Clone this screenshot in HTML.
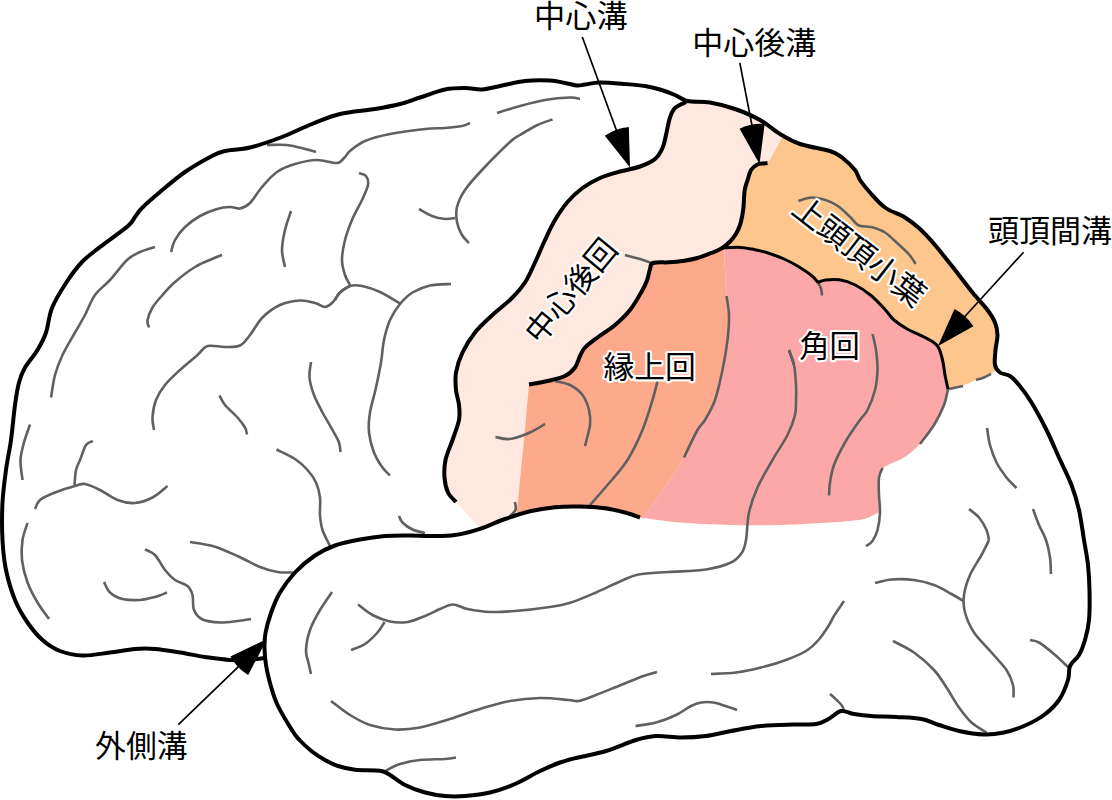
<!DOCTYPE html>
<html><head><meta charset="utf-8"><title>Parietal lobe</title>
<style>
html,body{margin:0;padding:0;background:#fff;}
body{width:1112px;height:800px;overflow:hidden;font-family:"Liberation Sans",sans-serif;}
svg{display:block;}
.g{fill:none;stroke:#606060;stroke-width:2.6;stroke-linecap:butt;stroke-linejoin:round;}
.k{fill:none;stroke:#000;stroke-width:4.0;stroke-linecap:butt;stroke-linejoin:round;}
.k2{fill:none;stroke:#000;stroke-width:3.0;stroke-linecap:butt;stroke-linejoin:round;}
.a{fill:none;stroke:#000;stroke-width:1.7;}
.t{fill:#000;font-family:"Liberation Sans","Noto Sans CJK JP",sans-serif;}
.th{fill:#000;stroke:#fff;stroke-width:4.2;stroke-linejoin:round;paint-order:stroke fill;font-family:"Liberation Sans","Noto Sans CJK JP",sans-serif;}
</style></head><body>
<svg width="1112" height="800" viewBox="0 0 1112 800">
<rect width="1112" height="800" fill="#fff"/>
<path d="M686.0,102.0 C684.2,103.0 677.7,105.4 675.0,108.0 C672.3,110.6 671.5,113.0 670.0,117.5 C668.5,122.0 667.2,129.9 666.0,135.0 C664.8,140.1 664.3,144.0 662.5,148.0 C660.7,152.0 658.8,155.9 655.0,159.0 C651.2,162.1 645.8,164.4 640.0,166.5 C634.2,168.6 626.7,169.6 620.0,171.5 C613.3,173.4 606.2,175.2 600.0,178.0 C593.8,180.8 587.9,184.0 582.5,188.0 C577.1,192.0 572.1,196.7 567.5,202.0 C562.9,207.3 558.8,213.7 555.0,220.0 C551.2,226.3 548.3,232.9 545.0,240.0 C541.7,247.1 538.3,255.4 535.0,262.5 C531.7,269.6 528.8,276.7 525.0,282.5 C521.2,288.3 517.9,292.1 512.5,297.5 C507.1,302.9 498.8,309.2 492.5,315.0 C486.2,320.8 480.0,326.2 475.0,332.5 C470.0,338.8 465.7,345.8 462.5,352.5 C459.3,359.2 457.1,366.2 456.0,372.5 C454.9,378.8 455.5,384.6 456.0,390.0 C456.5,395.4 458.5,400.0 459.0,405.0 C459.5,410.0 460.1,414.2 459.0,420.0 C457.9,425.8 454.8,433.3 452.5,440.0 C450.2,446.7 446.8,453.8 445.5,460.0 C444.2,466.2 444.1,472.1 444.5,477.5 C444.9,482.9 446.1,488.4 448.0,492.5 C449.9,496.6 454.7,500.4 456.0,502.0 L480.0,528.8 C484.2,527.2 498.9,521.4 505.0,519.0 C511.1,516.6 514.6,515.2 516.5,514.5 L516.5,514.0 C516.9,510.0 518.0,499.8 519.0,490.0 C520.0,480.2 521.3,467.1 522.5,455.0 C523.7,442.9 524.9,429.2 526.0,417.5 C527.1,405.8 528.5,390.0 529.0,384.5 L529.0,384.5 C532.1,383.9 541.5,382.4 547.5,381.0 C553.5,379.6 560.4,378.2 565.0,376.0 C569.6,373.8 572.5,370.8 575.0,367.5 C577.5,364.2 578.3,359.3 580.0,356.0 C581.7,352.7 582.1,350.6 585.0,347.5 C587.9,344.4 592.5,341.2 597.5,337.5 C602.5,333.8 609.6,329.6 615.0,325.0 C620.4,320.4 625.6,315.5 630.0,310.0 C634.4,304.5 638.6,296.9 641.4,292.0 C644.2,287.1 645.6,284.3 647.0,280.5 C648.4,276.7 649.0,271.9 650.0,269.0 C651.0,266.1 649.9,264.1 653.0,263.0 C656.1,261.9 663.8,262.6 668.8,262.3 C673.8,262.0 678.2,261.7 683.0,261.0 C687.8,260.3 692.6,259.4 697.5,258.0 C702.4,256.6 708.5,254.1 712.5,252.5 C716.5,250.9 718.6,250.2 721.5,248.4 C724.4,246.7 727.2,244.4 729.6,242.0 C732.0,239.6 734.2,236.8 735.9,234.0 C737.6,231.2 739.0,228.0 740.0,225.0 C741.0,222.0 741.6,219.0 742.2,216.0 C742.8,213.0 743.2,210.0 743.5,207.0 C743.8,204.0 743.8,201.0 744.0,198.0 C744.2,195.0 744.3,192.0 744.9,189.0 C745.5,186.0 746.6,183.2 747.6,180.0 C748.6,176.8 749.4,172.6 751.0,170.0 C752.6,167.4 754.8,165.7 757.5,164.5 C760.2,163.3 765.8,163.2 767.5,163.0 L783.0,136.0 L783.0,136.0 C782.5,135.7 783.8,136.7 780.0,134.0 C776.2,131.3 767.5,124.2 760.0,120.0 C752.5,115.8 743.3,111.9 735.0,109.0 C726.7,106.1 718.2,103.7 710.0,102.5 C701.8,101.3 690.0,102.1 686.0,102.0 Z" fill="#fee8e0"/>
<path d="M721.5,248.4 C720.0,249.1 716.5,250.9 712.5,252.5 C708.5,254.1 702.4,256.6 697.5,258.0 C692.6,259.4 687.8,260.3 683.0,261.0 C678.2,261.7 673.8,262.0 668.8,262.3 C663.8,262.6 656.1,261.9 653.0,263.0 C649.9,264.1 651.0,266.1 650.0,269.0 C649.0,271.9 648.4,276.7 647.0,280.5 C645.6,284.3 644.2,287.1 641.4,292.0 C638.6,296.9 634.4,304.5 630.0,310.0 C625.6,315.5 620.4,320.4 615.0,325.0 C609.6,329.6 602.5,333.8 597.5,337.5 C592.5,341.2 587.9,344.4 585.0,347.5 C582.1,350.6 581.7,352.7 580.0,356.0 C578.3,359.3 577.5,364.2 575.0,367.5 C572.5,370.8 569.6,373.8 565.0,376.0 C560.4,378.2 553.5,379.6 547.5,381.0 C541.5,382.4 532.1,383.9 529.0,384.5 L529.0,384.5 C528.5,390.0 527.1,405.8 526.0,417.5 C524.9,429.2 523.7,442.9 522.5,455.0 C521.3,467.1 520.0,480.2 519.0,490.0 C518.0,499.8 516.9,510.0 516.5,514.0 L516.5,514.5 C518.8,514.0 523.6,512.5 530.0,511.3 C536.4,510.1 546.7,508.0 555.0,507.2 C563.3,506.4 571.7,506.3 580.0,506.5 C588.3,506.7 597.5,507.3 605.0,508.3 C612.5,509.3 618.7,510.8 625.0,512.5 C631.3,514.2 640.0,517.5 643.0,518.5 L643.0,518.0 C644.2,516.3 645.5,514.3 650.0,508.0 C654.5,501.7 664.3,488.4 670.0,480.0 C675.7,471.6 679.4,465.8 684.0,457.5 C688.6,449.2 694.0,436.2 697.5,430.0 C701.0,423.8 702.1,425.0 705.0,420.0 C707.9,415.0 712.1,408.3 715.0,400.0 C717.9,391.7 720.4,380.0 722.5,370.0 C724.6,360.0 726.4,349.2 727.5,340.0 C728.6,330.8 729.2,322.3 729.0,315.0 C728.8,307.7 727.2,303.5 726.5,296.0 C725.8,288.5 725.4,278.0 725.0,270.0 C724.6,262.0 724.4,251.7 724.3,248.0 Z" fill="#fca98c"/>
<path d="M723.0,247.8 C726.0,247.7 735.4,247.1 740.7,247.4 C746.0,247.7 750.2,248.7 755.0,249.7 C759.8,250.7 764.7,251.9 769.5,253.5 C774.3,255.1 779.3,256.9 784.0,259.0 C788.7,261.1 792.9,263.2 797.5,266.0 C802.1,268.8 808.1,272.8 811.5,275.5 C814.9,278.2 816.9,281.3 818.0,282.5 L818.0,282.5 C819.2,282.1 821.9,280.4 825.5,280.0 C829.1,279.6 834.5,279.0 839.5,279.8 C844.5,280.6 850.0,282.4 855.3,285.0 C860.5,287.6 866.0,291.4 871.0,295.5 C876.0,299.6 881.2,305.4 885.0,309.5 C888.8,313.6 890.2,316.7 894.0,320.0 C897.8,323.3 902.8,326.6 908.0,329.5 C913.2,332.4 920.1,334.8 925.0,337.5 C929.9,340.2 934.6,342.2 937.5,346.0 C940.4,349.8 941.2,355.2 942.5,360.0 C943.8,364.8 944.1,370.2 945.0,375.0 C945.9,379.8 947.5,386.7 948.0,389.0 L948.0,389.0 C947.3,391.7 946.3,399.0 944.0,405.0 C941.7,411.0 938.0,418.5 934.0,425.0 C930.0,431.5 925.0,438.6 920.0,444.0 C915.0,449.4 910.0,453.6 904.0,457.5 C898.0,461.4 888.2,463.8 884.0,467.5 C879.8,471.2 879.8,475.4 879.0,480.0 C878.2,484.6 878.8,489.7 879.0,495.0 C879.2,500.3 879.8,509.2 880.0,512.0 L880.0,512.0 C877.3,513.2 870.0,517.4 864.0,519.0 C858.0,520.6 849.7,520.9 844.0,521.5 C838.3,522.1 840.7,521.9 830.0,522.5 C819.3,523.1 796.7,524.6 780.0,525.0 C763.3,525.4 746.7,525.4 730.0,525.0 C713.3,524.6 694.5,523.7 680.0,522.5 C665.5,521.3 649.2,518.8 643.0,518.0 L643.0,518.0 C644.2,516.3 645.5,514.3 650.0,508.0 C654.5,501.7 664.3,488.4 670.0,480.0 C675.7,471.6 679.4,465.8 684.0,457.5 C688.6,449.2 694.0,436.2 697.5,430.0 C701.0,423.8 702.1,425.0 705.0,420.0 C707.9,415.0 712.1,408.3 715.0,400.0 C717.9,391.7 720.4,380.0 722.5,370.0 C724.6,360.0 726.4,349.2 727.5,340.0 C728.6,330.8 729.2,322.3 729.0,315.0 C728.8,307.7 727.2,303.5 726.5,296.0 C725.8,288.5 725.4,278.0 725.0,270.0 C724.6,262.0 724.4,251.7 724.3,248.0 Z" fill="#fca8a8"/>
<path d="M767.5,163.0 C765.8,163.2 760.2,163.3 757.5,164.5 C754.8,165.7 752.6,167.4 751.0,170.0 C749.4,172.6 748.6,176.8 747.6,180.0 C746.6,183.2 745.5,186.0 744.9,189.0 C744.3,192.0 744.2,195.0 744.0,198.0 C743.8,201.0 743.8,204.0 743.5,207.0 C743.2,210.0 742.8,213.0 742.2,216.0 C741.6,219.0 741.0,222.0 740.0,225.0 C739.0,228.0 737.6,231.2 735.9,234.0 C734.2,236.8 732.0,239.6 729.6,242.0 C727.2,244.4 722.9,247.3 721.5,248.4 L723.0,247.8 C726.0,247.7 735.4,247.1 740.7,247.4 C746.0,247.7 750.2,248.7 755.0,249.7 C759.8,250.7 764.7,251.9 769.5,253.5 C774.3,255.1 779.3,256.9 784.0,259.0 C788.7,261.1 792.9,263.2 797.5,266.0 C802.1,268.8 808.1,272.8 811.5,275.5 C814.9,278.2 816.9,281.3 818.0,282.5 L818.0,282.5 C819.2,282.1 821.9,280.4 825.5,280.0 C829.1,279.6 834.5,279.0 839.5,279.8 C844.5,280.6 850.0,282.4 855.3,285.0 C860.5,287.6 866.0,291.4 871.0,295.5 C876.0,299.6 881.2,305.4 885.0,309.5 C888.8,313.6 890.2,316.7 894.0,320.0 C897.8,323.3 902.8,326.6 908.0,329.5 C913.2,332.4 920.1,334.8 925.0,337.5 C929.9,340.2 934.6,342.2 937.5,346.0 C940.4,349.8 941.2,355.2 942.5,360.0 C943.8,364.8 944.1,370.2 945.0,375.0 C945.9,379.8 947.5,386.7 948.0,389.0 L949.0,389.0 C951.5,388.3 959.5,386.5 964.0,385.0 C968.5,383.5 972.7,381.2 976.0,380.0 C979.3,378.8 981.5,378.5 984.0,377.5 C986.5,376.5 988.9,375.4 991.0,374.0 C993.1,372.6 995.6,369.8 996.5,369.0 L996.5,369.0 C996.2,368.3 995.2,368.2 995.0,365.0 C994.8,361.8 995.1,355.0 995.5,350.0 C995.9,345.0 997.6,339.6 997.5,335.0 C997.4,330.4 996.7,326.7 995.0,322.5 C993.3,318.3 991.2,315.0 987.5,310.0 C983.8,305.0 977.9,299.2 972.5,292.5 C967.1,285.8 961.2,277.9 955.0,270.0 C948.8,262.1 940.8,251.8 935.0,245.0 C929.2,238.2 925.0,233.6 920.0,229.0 C915.0,224.4 910.8,221.1 905.0,217.5 C899.2,213.9 890.8,211.7 885.0,207.5 C879.2,203.3 874.2,197.1 870.0,192.5 C865.8,187.9 862.5,183.8 860.0,180.0 C857.5,176.2 858.0,173.8 855.0,170.0 C852.0,166.2 846.2,160.7 842.0,157.5 C837.8,154.3 837.0,153.2 830.0,151.0 C823.0,148.8 807.8,146.5 800.0,144.0 C792.2,141.5 785.8,137.3 783.0,136.0 L768.0,163.0 Z" fill="#fdc68c"/>
<g class="g">
<path d="M155.0,247.0 C152.5,247.8 144.7,249.8 140.0,252.0 C135.3,254.2 132.0,255.3 127.0,260.0 C122.0,264.7 115.3,274.2 110.0,280.0 C104.7,285.8 99.2,289.2 95.0,295.0 C90.8,300.8 88.3,308.8 85.0,315.0 C81.7,321.2 78.8,325.8 75.0,332.5 C71.2,339.2 65.8,347.9 62.5,355.0 C59.2,362.1 56.9,367.9 55.0,375.0 C53.1,382.1 51.7,393.8 51.0,397.5"/>
<path d="M171.0,252.0 C171.7,250.0 172.7,244.2 175.0,240.0 C177.3,235.8 180.8,231.0 185.0,227.0 C189.2,223.0 194.7,219.0 200.0,216.0 C205.3,213.0 212.0,210.5 217.0,209.0 C222.0,207.5 226.2,207.1 230.0,207.0 C233.8,206.9 236.7,209.2 240.0,208.5 C243.3,207.8 246.3,206.6 250.0,203.0 C253.7,199.4 257.5,192.2 262.0,187.0 C266.5,181.8 271.5,175.8 277.0,172.0 C282.5,168.2 288.3,166.0 295.0,164.0 C301.7,162.0 310.0,160.2 317.0,160.0 C324.0,159.8 332.3,163.5 337.0,163.0 C341.7,162.5 342.8,159.0 345.0,157.0 C347.2,155.0 346.7,153.7 350.0,151.0 C353.3,148.3 358.3,143.8 365.0,141.0 C371.7,138.2 380.0,136.0 390.0,134.0 C400.0,132.0 415.8,130.0 425.0,129.0 C434.2,128.0 438.8,128.5 445.0,128.0 C451.2,127.5 457.8,126.8 462.0,126.0 C466.2,125.2 468.7,123.5 470.0,123.0"/>
<path d="M222.0,255.0 C220.3,255.7 216.5,257.0 212.0,259.0 C207.5,261.0 201.2,263.2 195.0,267.0 C188.8,270.8 180.4,277.3 175.0,282.0 C169.6,286.7 166.2,290.8 162.5,295.0 C158.8,299.2 155.0,303.3 152.5,307.5 C150.0,311.7 148.1,316.7 147.5,320.0 C146.9,323.3 148.8,326.2 149.0,327.5"/>
<path d="M267.0,145.0 C270.3,145.0 280.7,144.3 287.0,145.0 C293.3,145.7 300.2,147.8 305.0,149.0 C309.8,150.2 314.2,151.5 316.0,152.0"/>
<path d="M291.0,211.0 C290.0,214.2 286.5,223.5 285.0,230.0 C283.5,236.5 282.0,243.8 282.0,250.0 C282.0,256.2 284.5,264.2 285.0,267.0"/>
<path d="M359.0,173.0 C360.2,173.5 364.5,174.0 366.0,176.0 C367.5,178.0 368.7,181.0 368.0,185.0 C367.3,189.0 364.7,194.2 362.0,200.0 C359.3,205.8 354.8,213.3 352.0,220.0 C349.2,226.7 346.7,233.3 345.0,240.0 C343.3,246.7 342.0,254.2 342.0,260.0 C342.0,265.8 343.7,270.8 345.0,275.0 C346.3,279.2 349.2,283.3 350.0,285.0"/>
<path d="M335.0,300.0 C335.8,298.8 337.5,294.8 340.0,292.5 C342.5,290.2 346.3,287.1 350.0,286.0 C353.7,284.9 357.0,285.0 362.0,286.0 C367.0,287.0 373.7,289.1 380.0,292.0 C386.3,294.9 396.7,301.6 400.0,303.5"/>
<path d="M451.0,284.0 C447.5,284.2 436.4,284.1 430.0,285.5 C423.6,286.9 417.5,289.4 412.5,292.5 C407.5,295.6 403.8,299.4 400.0,304.0 C396.2,308.6 392.7,314.0 390.0,320.0 C387.3,326.0 385.5,332.9 384.0,340.0 C382.5,347.1 382.3,354.6 381.0,362.5 C379.7,370.4 377.8,379.2 376.0,387.5 C374.2,395.8 371.2,405.0 370.0,412.5 C368.8,420.0 368.3,425.8 369.0,432.5 C369.7,439.2 371.8,446.7 374.0,452.5 C376.2,458.3 379.8,463.7 382.5,467.5 C385.2,471.3 388.8,474.2 390.0,475.5"/>
<path d="M419.0,209.0 C421.2,210.2 427.7,214.3 432.0,216.0 C436.3,217.7 441.2,218.7 445.0,219.0 C448.8,219.3 453.3,218.2 455.0,218.0"/>
<path d="M552.5,119.5 C550.0,120.4 542.9,122.4 537.5,125.0 C532.1,127.6 524.6,132.2 520.0,135.0 C515.4,137.8 516.3,136.2 510.0,142.0 C503.7,147.8 489.5,162.0 482.0,170.0 C474.5,178.0 469.2,183.8 465.0,190.0 C460.8,196.2 458.3,201.7 457.0,207.0 C455.7,212.3 456.2,217.3 457.0,222.0 C457.8,226.7 460.0,231.5 462.0,235.0 C464.0,238.5 467.8,241.7 469.0,243.0"/>
<path d="M497.0,113.0 C500.8,111.8 512.0,108.2 520.0,106.0 C528.0,103.8 536.7,101.4 545.0,100.0 C553.3,98.6 564.2,97.7 570.0,97.5 C575.8,97.3 578.3,98.8 580.0,99.0"/>
<path d="M350.0,286.0 C348.3,287.1 342.9,289.8 340.0,292.5 C337.1,295.2 335.0,300.1 332.5,302.5 C330.0,304.9 327.9,306.9 325.0,307.0 C322.1,307.1 319.2,304.1 315.0,303.0 C310.8,301.9 305.8,300.2 300.0,300.5 C294.2,300.8 286.2,302.2 280.0,305.0 C273.8,307.8 267.5,312.5 262.5,317.5 C257.5,322.5 253.8,330.3 250.0,335.0 C246.2,339.7 244.2,343.5 240.0,345.5 C235.8,347.5 230.4,346.9 225.0,347.0 C219.6,347.1 212.1,344.7 207.5,346.0 C202.9,347.3 202.1,351.0 197.5,355.0 C192.9,359.0 185.4,365.0 180.0,370.0 C174.6,375.0 169.0,380.0 165.0,385.0 C161.0,390.0 158.1,394.6 156.0,400.0 C153.9,405.4 152.8,412.5 152.5,417.5 C152.2,422.5 153.8,427.9 154.0,430.0"/>
<path d="M219.5,395.5 C220.4,397.1 222.0,401.3 225.0,405.0 C228.0,408.7 234.2,413.8 237.5,417.5 C240.8,421.2 243.4,424.7 245.0,427.5 C246.6,430.3 246.7,433.3 247.0,434.5"/>
<path d="M30.0,424.5 C29.0,427.5 25.6,436.6 24.0,442.5 C22.4,448.4 20.8,453.8 20.5,460.0 C20.2,466.2 22.2,476.7 22.5,480.0"/>
<path d="M93.0,441.0 C91.8,441.7 88.2,441.8 86.0,445.0 C83.8,448.2 81.7,455.8 80.0,460.0 C78.3,464.2 76.9,465.8 76.0,470.0 C75.1,474.2 74.8,482.5 74.5,485.0"/>
<path d="M311.0,362.0 C310.8,364.6 309.0,372.0 309.5,377.5 C310.0,383.0 311.8,389.2 314.0,395.0 C316.2,400.8 319.4,406.7 322.5,412.5 C325.6,418.3 329.8,425.0 332.5,430.0 C335.2,435.0 337.7,438.8 339.0,442.5 C340.3,446.2 340.2,450.4 340.5,452.0"/>
<path d="M276.5,449.5 C279.6,451.1 289.8,455.6 295.0,459.0 C300.2,462.4 304.0,466.1 307.5,470.0 C311.0,473.9 313.9,477.9 316.0,482.5 C318.1,487.1 319.3,492.1 320.0,497.5 C320.7,502.9 319.6,509.6 320.0,515.0 C320.4,520.4 320.8,524.8 322.5,530.0 C324.2,535.2 328.8,543.3 330.0,546.0"/>
<path d="M35.0,509.0 C35.8,507.5 36.7,502.8 40.0,500.0 C43.3,497.2 49.2,494.8 55.0,492.5 C60.8,490.2 70.0,487.4 75.0,486.0 C80.0,484.6 80.8,483.3 85.0,484.0 C89.2,484.7 94.6,487.3 100.0,490.0 C105.4,492.7 111.7,497.8 117.5,500.0 C123.3,502.2 129.2,503.4 135.0,503.0 C140.8,502.6 147.1,500.3 152.5,497.5 C157.9,494.7 165.0,487.9 167.5,486.0"/>
<path d="M27.5,523.0 C26.7,525.8 23.4,533.8 22.5,540.0 C21.6,546.2 21.2,552.9 22.0,560.0 C22.8,567.1 24.9,575.4 27.5,582.5 C30.1,589.6 33.9,596.4 37.5,602.5 C41.1,608.6 47.1,616.2 49.0,619.0"/>
<path d="M104.0,582.0 C105.0,583.8 106.9,589.7 110.0,592.5 C113.1,595.3 117.5,597.8 122.5,599.0 C127.5,600.2 134.6,600.3 140.0,600.0 C145.4,599.7 150.5,598.2 155.0,597.0 C159.5,595.8 165.0,593.2 167.0,592.5"/>
<path d="M145.0,549.5 C146.7,550.4 151.7,551.6 155.0,555.0 C158.3,558.4 161.7,565.8 165.0,570.0 C168.3,574.2 171.2,577.3 175.0,580.0 C178.8,582.7 184.6,583.5 187.5,586.0 C190.4,588.5 191.4,591.0 192.5,595.0 C193.6,599.0 192.3,605.9 194.0,610.0 C195.7,614.1 198.2,617.4 202.5,619.5 C206.8,621.6 214.2,622.2 220.0,622.5 C225.8,622.8 232.3,621.6 237.5,621.0 C242.7,620.4 248.8,619.3 251.0,619.0"/>
<path d="M190.0,542.0 C193.8,542.7 204.6,543.7 212.5,546.0 C220.4,548.3 229.6,552.5 237.5,556.0 C245.4,559.5 253.3,564.3 260.0,567.0 C266.7,569.7 272.0,571.1 277.5,572.0 C283.0,572.9 290.4,572.4 293.0,572.5"/>
<path d="M399.0,516.0 C399.6,517.1 400.2,520.2 402.5,522.5 C404.8,524.8 408.8,527.8 412.5,529.5 C416.2,531.2 422.9,532.4 425.0,533.0"/>
<path d="M332.0,592.0 C330.0,595.0 323.7,603.7 320.0,610.0 C316.3,616.3 312.3,623.3 310.0,630.0 C307.7,636.7 306.2,644.2 306.0,650.0 C305.8,655.8 308.2,661.0 309.0,665.0 C309.8,669.0 310.7,672.5 311.0,674.0"/>
<path d="M358.0,604.5 C360.4,606.2 367.2,612.2 372.5,615.0 C377.8,617.8 384.2,620.3 390.0,621.5 C395.8,622.7 401.7,622.9 407.5,622.0 C413.3,621.1 419.6,618.2 425.0,616.0 C430.4,613.8 435.3,610.9 440.0,609.0 C444.7,607.1 448.4,604.5 453.0,604.5 C457.6,604.5 461.3,607.8 467.5,609.0 C473.7,610.2 482.1,611.7 490.0,612.0 C497.9,612.3 505.0,611.8 515.0,611.0 C525.0,610.2 540.7,608.4 550.0,607.0 C559.3,605.6 563.3,604.9 571.0,602.5 C578.7,600.1 587.7,596.1 596.0,592.5 C604.3,588.9 613.9,584.0 621.0,581.0 C628.1,578.0 630.6,576.0 638.5,574.5 C646.4,573.0 657.2,572.8 668.5,572.0 C679.8,571.2 695.6,571.1 706.0,569.5 C716.4,567.9 725.0,565.3 731.0,562.5 C737.0,559.7 739.5,556.2 742.0,552.5 C744.5,548.8 744.8,546.7 746.0,540.0 C747.2,533.3 747.1,521.2 749.0,512.5 C750.9,503.8 753.6,496.2 757.5,487.5 C761.4,478.8 767.5,468.8 772.5,460.0 C777.5,451.2 783.8,442.5 787.5,435.0 C791.2,427.5 793.6,420.8 795.0,415.0 C796.4,409.2 795.8,405.0 796.0,400.0 C796.2,395.0 796.3,390.8 796.0,385.0 C795.7,379.2 795.2,370.8 794.0,365.0 C792.8,359.2 789.8,352.5 789.0,350.0"/>
<path d="M384.5,622.0 C383.3,623.8 380.8,628.8 377.5,632.5 C374.2,636.2 369.4,641.1 365.0,644.0 C360.6,646.9 353.3,649.0 351.0,650.0"/>
<path d="M331.0,701.0 C334.2,703.3 343.5,711.0 350.0,715.0 C356.5,719.0 362.5,722.6 370.0,725.0 C377.5,727.4 386.7,729.1 395.0,729.5 C403.3,729.9 410.8,729.2 420.0,727.5 C429.2,725.8 440.0,722.1 450.0,719.0 C460.0,715.9 470.0,712.0 480.0,709.0 C490.0,706.0 500.0,702.8 510.0,701.0 C520.0,699.2 530.2,698.2 540.0,698.0 C549.8,697.8 562.1,699.5 568.5,700.0 C574.9,700.5 574.3,701.7 578.5,701.0 C582.7,700.3 586.4,698.7 593.5,696.0 C600.6,693.3 612.7,688.3 621.0,685.0 C629.3,681.7 637.5,678.2 643.5,676.0 C649.5,673.8 654.8,672.7 657.0,672.0"/>
<path d="M386.0,770.5 C388.3,769.4 394.3,765.8 400.0,764.0 C405.7,762.2 412.5,760.8 420.0,760.0 C427.5,759.2 439.0,759.4 445.0,759.0 C451.0,758.6 454.2,757.8 456.0,757.5"/>
<path d="M711.0,674.0 C715.2,673.8 727.7,673.6 736.0,672.5 C744.3,671.4 752.7,669.6 761.0,667.5 C769.3,665.4 778.5,662.8 786.0,660.0 C793.5,657.2 800.6,654.3 806.0,651.0 C811.4,647.7 814.8,644.2 818.5,640.0 C822.2,635.8 825.9,630.0 828.5,626.0 C831.1,622.0 831.4,620.2 834.0,616.0 C836.6,611.8 842.3,603.5 844.0,601.0"/>
<path d="M635.5,726.0 C638.9,725.4 649.2,724.3 656.0,722.5 C662.8,720.7 670.2,717.8 676.0,715.0 C681.8,712.2 686.8,708.1 691.0,706.0 C695.2,703.9 697.2,703.1 701.0,702.5 C704.8,701.9 708.9,701.8 713.5,702.5 C718.1,703.2 724.6,705.8 728.5,707.0 C732.4,708.2 735.6,709.5 737.0,710.0"/>
<path d="M830.0,694.0 C830.7,694.6 832.1,695.7 834.0,697.5 C835.9,699.3 839.8,702.8 841.5,705.0 C843.2,707.2 843.6,710.0 844.0,711.0"/>
<path d="M989.0,540.0 C987.8,542.5 984.7,549.2 981.5,555.0 C978.3,560.8 972.9,568.3 970.0,575.0 C967.1,581.7 964.8,588.8 964.0,595.0 C963.2,601.2 963.3,606.2 965.0,612.5 C966.7,618.8 969.6,625.8 974.0,632.5 C978.4,639.2 986.1,646.2 991.5,652.5 C996.9,658.8 1002.9,664.6 1006.5,670.0 C1010.1,675.4 1011.8,680.4 1013.0,685.0 C1014.2,689.6 1013.4,695.4 1013.5,697.5"/>
<path d="M875.0,583.0 C877.8,582.4 885.0,580.0 891.5,579.5 C898.0,579.0 906.9,579.1 914.0,580.0 C921.1,580.9 927.8,582.7 934.0,585.0 C940.2,587.3 946.6,591.3 951.5,594.0 C956.4,596.7 961.5,599.8 963.5,601.0"/>
<path d="M1033.0,509.0 C1034.0,511.7 1036.8,519.8 1039.0,525.0 C1041.2,530.2 1044.2,534.6 1046.0,540.0 C1047.8,545.4 1049.2,551.8 1050.0,557.5 C1050.8,563.2 1050.8,571.2 1051.0,574.0"/>
<path d="M893.0,641.0 C896.5,642.9 907.2,647.7 914.0,652.5 C920.8,657.3 928.6,664.2 934.0,670.0 C939.4,675.8 942.3,681.2 946.5,687.5 C950.7,693.8 954.8,701.7 959.0,707.5 C963.2,713.3 966.9,718.3 971.5,722.5 C976.1,726.7 984.0,730.8 986.5,732.5"/>
<path d="M1030.0,640.0 C1031.5,640.4 1035.0,640.2 1039.0,642.5 C1043.0,644.8 1049.0,649.8 1054.0,654.0 C1059.0,658.2 1066.5,665.7 1069.0,668.0"/>
<path d="M882.5,468.0 C881.9,469.6 879.6,473.0 879.0,477.5 C878.4,482.0 878.8,489.2 879.0,495.0 C879.2,500.8 880.2,506.7 880.0,512.5 C879.8,518.3 878.8,525.2 877.5,530.0 C876.2,534.8 874.4,538.3 872.5,541.0 C870.6,543.7 867.1,545.2 866.0,546.0"/>
<path d="M987.0,428.0 C987.5,430.8 988.4,439.2 990.0,445.0 C991.6,450.8 993.8,457.1 996.5,462.5 C999.2,467.9 1003.2,473.2 1006.5,477.5 C1009.8,481.8 1014.8,486.2 1016.5,488.0"/>
<path d="M969.0,509.0 C970.7,510.4 976.1,514.0 979.0,517.5 C981.9,521.0 984.8,526.2 986.5,530.0 C988.2,533.8 988.6,538.3 989.0,540.0"/>
<path d="M625.0,255.0 C627.5,255.7 635.6,257.7 640.0,259.0 C644.4,260.3 649.6,262.3 651.5,263.0"/>
<path d="M555.0,381.0 C557.5,381.7 565.4,382.7 570.0,385.0 C574.6,387.3 579.3,390.8 582.5,395.0 C585.7,399.2 587.8,405.0 589.0,410.0 C590.2,415.0 590.7,419.0 590.0,425.0 C589.3,431.0 585.8,442.5 585.0,446.0"/>
<path d="M495.5,437.0 C497.9,437.3 504.2,439.8 510.0,439.0 C515.8,438.2 524.2,435.0 530.0,432.5 C535.8,430.0 542.5,425.4 545.0,424.0"/>
<path d="M657.5,381.0 C656.7,384.2 655.0,391.8 652.5,400.0 C650.0,408.2 646.7,420.0 642.5,430.0 C638.3,440.0 633.3,450.8 627.5,460.0 C621.7,469.2 613.8,477.5 607.5,485.0 C601.2,492.5 592.9,501.7 590.0,505.0"/>
<path d="M726.5,296.0 C726.9,299.2 728.8,307.7 729.0,315.0 C729.2,322.3 728.6,330.8 727.5,340.0 C726.4,349.2 724.6,360.0 722.5,370.0 C720.4,380.0 717.9,391.7 715.0,400.0 C712.1,408.3 707.9,415.0 705.0,420.0 C702.1,425.0 701.0,423.8 697.5,430.0 C694.0,436.2 686.2,452.9 684.0,457.5"/>
<path d="M515.0,502.0 C515.1,503.3 516.3,507.7 515.5,510.0 C514.7,512.3 510.9,515.0 510.0,516.0"/>
<path d="M818.0,282.5 C818.5,283.5 820.3,286.3 821.0,288.5 C821.7,290.7 821.8,294.3 822.0,295.5"/>
<path d="M789.0,350.0 C789.8,352.5 793.2,362.5 794.0,365.0"/>
<path d="M872.5,334.0 C873.1,336.7 875.2,344.0 876.0,350.0 C876.8,356.0 877.7,363.3 877.5,370.0 C877.3,376.7 876.7,383.3 875.0,390.0 C873.3,396.7 870.0,405.0 867.5,410.0 C865.0,415.0 863.8,414.6 860.0,420.0 C856.2,425.4 849.3,435.0 845.0,442.5 C840.7,450.0 836.5,458.3 834.0,465.0 C831.5,471.7 830.8,477.4 830.0,482.5 C829.2,487.6 829.2,493.3 829.0,495.5"/>
<path d="M798.4,201.0 C800.6,200.4 807.0,197.7 811.5,197.5 C816.0,197.3 821.1,198.6 825.5,200.0 C829.9,201.4 833.7,203.2 837.8,206.0 C841.9,208.8 846.5,213.6 850.0,216.8 C853.5,220.1 855.3,223.8 858.8,225.5 C862.3,227.2 866.6,225.8 871.0,227.0 C875.4,228.2 880.3,229.5 885.0,232.5 C889.7,235.5 894.9,241.1 899.0,244.8 C903.1,248.6 906.7,251.8 909.5,255.0 C912.3,258.2 914.7,262.5 915.7,264.0"/>
<path d="M948.0,389.0 C947.3,391.7 946.3,399.0 944.0,405.0 C941.7,411.0 938.0,418.5 934.0,425.0 C930.0,431.5 922.3,440.8 920.0,444.0"/>
<path d="M991.0,374.0 C989.8,374.6 986.5,376.5 984.0,377.5 C981.5,378.5 977.3,379.6 976.0,380.0"/>
<path d="M963.0,386.0 C960.7,386.5 951.3,388.5 949.0,389.0"/>
</g>
<path class="k" d="M640.0,517.5 C637.5,516.7 630.8,514.0 625.0,512.5 C619.2,511.0 612.5,509.3 605.0,508.3 C597.5,507.3 588.3,506.7 580.0,506.5 C571.7,506.3 563.3,506.4 555.0,507.2 C546.7,508.0 538.3,509.3 530.0,511.3 C521.7,513.3 513.3,516.1 505.0,519.0 C496.7,521.9 488.3,526.1 480.0,528.8 C471.7,531.5 463.3,533.8 455.0,535.0 C446.7,536.2 437.5,535.9 430.0,536.0 C422.5,536.1 417.5,535.5 410.0,535.5 C402.5,535.5 393.3,535.3 385.0,536.0 C376.7,536.7 368.3,537.9 360.0,539.5 C351.7,541.1 342.5,542.8 335.0,545.5 C327.5,548.2 321.7,551.0 315.0,555.5 C308.3,560.0 300.8,566.3 295.0,572.5 C289.2,578.7 284.0,585.8 280.0,592.5 C276.0,599.2 273.4,606.2 271.0,613.0 C268.6,619.8 266.6,627.2 265.5,633.0 C264.4,638.8 264.4,642.7 264.5,648.0 C264.6,653.3 265.1,659.2 266.0,665.0 C266.9,670.8 268.1,676.3 270.0,683.0 C271.9,689.7 273.8,697.0 277.5,705.0 C281.2,713.0 288.8,725.1 292.5,731.0 C296.2,736.9 296.8,737.1 300.0,740.5 C303.2,743.9 307.8,748.2 312.0,751.5 C316.2,754.8 320.7,757.6 325.0,760.0 C329.3,762.4 333.0,764.4 338.0,766.0 C343.0,767.6 348.0,769.0 355.0,769.8 C362.0,770.6 374.2,769.9 380.0,770.8 C385.8,771.7 385.8,772.6 390.0,775.0 C394.2,777.4 399.2,782.1 405.0,785.0 C410.8,787.9 418.3,790.7 425.0,792.5 C431.7,794.3 438.3,795.4 445.0,796.0 C451.7,796.6 457.5,796.6 465.0,796.0 C472.5,795.4 481.7,794.5 490.0,792.5 C498.3,790.5 506.7,787.6 515.0,784.0 C523.3,780.4 532.5,774.6 540.0,771.0 C547.5,767.4 553.7,764.8 560.0,762.5 C566.3,760.2 570.3,759.4 578.0,757.5 C585.7,755.6 596.3,753.9 606.0,751.0 C615.7,748.1 627.7,742.5 636.0,740.0 C644.3,737.5 648.5,736.4 656.0,736.0 C663.5,735.6 672.7,737.5 681.0,737.5 C689.3,737.5 697.7,737.1 706.0,736.0 C714.3,734.9 721.8,732.7 731.0,731.0 C740.2,729.3 750.6,727.1 761.0,726.0 C771.4,724.9 784.3,724.8 793.5,724.5 C802.7,724.2 810.2,724.9 816.0,724.0 C821.8,723.1 824.3,721.2 828.5,719.0 C832.7,716.8 836.8,711.8 841.0,711.0 C845.2,710.2 848.9,713.2 854.0,714.0 C859.1,714.8 864.4,715.5 871.5,716.0 C878.6,716.5 888.2,716.5 896.5,717.0 C904.8,717.5 914.4,717.7 921.5,719.0 C928.6,720.3 932.8,723.0 939.0,725.0 C945.2,727.0 951.5,729.4 959.0,731.0 C966.5,732.6 976.5,734.2 984.0,734.5 C991.5,734.8 997.3,733.9 1004.0,732.5 C1010.7,731.1 1017.3,728.9 1024.0,726.0 C1030.7,723.1 1038.2,719.3 1044.0,715.0 C1049.8,710.7 1055.0,705.8 1059.0,700.0 C1063.0,694.2 1066.2,685.7 1068.0,680.0 C1069.8,674.3 1068.2,670.2 1070.0,666.0 C1071.8,661.8 1076.5,659.3 1079.0,655.0 C1081.5,650.7 1083.3,645.8 1085.0,640.0 C1086.7,634.2 1088.2,628.3 1089.0,620.0 C1089.8,611.7 1089.7,599.2 1089.5,590.0 C1089.3,580.8 1088.9,573.3 1088.0,565.0 C1087.1,556.7 1085.5,549.2 1084.0,540.0 C1082.5,530.8 1081.1,519.2 1079.0,510.0 C1076.9,500.8 1074.8,493.8 1071.5,485.0 C1068.2,476.2 1063.2,466.7 1059.0,457.5 C1054.8,448.3 1051.1,439.2 1046.5,430.0 C1041.9,420.8 1036.1,410.0 1031.5,402.5 C1026.9,395.0 1022.6,389.4 1019.0,385.0 C1015.4,380.6 1013.2,378.1 1010.0,376.0 C1006.8,373.9 1002.5,374.3 1000.0,372.5 C997.5,370.7 995.8,368.8 995.0,365.0 C994.2,361.2 995.1,355.0 995.5,350.0 C995.9,345.0 997.6,339.6 997.5,335.0 C997.4,330.4 996.7,326.7 995.0,322.5 C993.3,318.3 991.2,315.0 987.5,310.0 C983.8,305.0 977.9,299.2 972.5,292.5 C967.1,285.8 961.2,277.9 955.0,270.0 C948.8,262.1 940.8,251.8 935.0,245.0 C929.2,238.2 925.0,233.6 920.0,229.0 C915.0,224.4 910.8,221.1 905.0,217.5 C899.2,213.9 890.8,211.7 885.0,207.5 C879.2,203.3 874.2,197.1 870.0,192.5 C865.8,187.9 862.5,183.8 860.0,180.0 C857.5,176.2 858.0,173.8 855.0,170.0 C852.0,166.2 846.2,160.7 842.0,157.5 C837.8,154.3 837.0,153.2 830.0,151.0 C823.0,148.8 808.3,146.8 800.0,144.0 C791.7,141.2 786.7,138.0 780.0,134.0 C773.3,130.0 767.5,124.2 760.0,120.0 C752.5,115.8 743.3,111.9 735.0,109.0 C726.7,106.1 717.9,103.8 710.0,102.5 C702.1,101.2 693.3,102.2 687.5,101.0 C681.7,99.8 679.6,96.9 675.0,95.0 C670.4,93.1 665.0,91.0 660.0,89.5 C655.0,88.0 650.8,86.9 645.0,86.0 C639.2,85.1 632.5,84.6 625.0,84.0 C617.5,83.4 606.7,82.4 600.0,82.5 C593.3,82.6 588.8,84.0 585.0,84.5 C581.2,85.0 580.3,85.8 577.0,85.5 C573.7,85.2 569.5,83.8 565.0,83.0 C560.5,82.2 556.7,80.8 550.0,80.5 C543.3,80.2 533.3,80.1 525.0,81.0 C516.7,81.9 507.2,84.6 500.0,86.0 C492.8,87.4 487.8,89.2 482.0,89.5 C476.2,89.8 471.2,88.0 465.0,88.0 C458.8,88.0 452.5,87.9 445.0,89.5 C437.5,91.1 427.5,95.1 420.0,97.5 C412.5,99.9 407.5,102.1 400.0,104.0 C392.5,105.9 385.0,107.3 375.0,109.0 C365.0,110.7 350.5,111.5 340.0,114.0 C329.5,116.5 321.7,120.2 312.0,124.0 C302.3,127.8 292.3,133.1 282.0,137.0 C271.7,140.9 259.5,145.2 250.0,147.5 C240.5,149.8 231.3,149.6 225.0,151.0 C218.7,152.4 218.7,152.5 212.0,156.0 C205.3,159.5 193.7,166.0 185.0,172.0 C176.3,178.0 167.2,186.0 160.0,192.0 C152.8,198.0 146.2,203.8 142.0,208.0 C137.8,212.2 137.3,214.0 135.0,217.0 C132.7,220.0 133.8,221.0 128.0,226.0 C122.2,231.0 107.7,241.0 100.0,247.0 C92.3,253.0 87.7,256.0 82.0,262.0 C76.3,268.0 71.0,275.3 66.0,283.0 C61.0,290.7 55.3,299.8 52.0,308.0 C48.7,316.2 48.4,325.5 46.0,332.5 C43.6,339.5 41.0,344.2 37.5,350.0 C34.0,355.8 28.1,362.1 25.0,367.5 C21.9,372.9 20.7,376.2 19.0,382.5 C17.3,388.8 16.3,395.4 15.0,405.0 C13.7,414.6 12.5,429.2 11.0,440.0 C9.5,450.8 7.4,459.6 6.0,470.0 C4.6,480.4 3.1,490.8 2.5,502.5 C1.9,514.2 1.9,528.8 2.5,540.0 C3.1,551.2 3.9,560.0 6.0,570.0 C8.1,580.0 11.4,591.2 15.0,600.0 C18.6,608.8 22.9,615.8 27.5,622.5 C32.1,629.2 37.1,635.2 42.5,640.0 C47.9,644.8 53.3,648.4 60.0,651.0 C66.7,653.6 74.2,655.2 82.5,655.5 C90.8,655.8 101.2,653.6 110.0,652.5 C118.8,651.4 127.5,649.6 135.0,649.0 C142.5,648.4 147.5,648.4 155.0,649.0 C162.5,649.6 171.7,651.2 180.0,652.5 C188.3,653.8 196.7,655.8 205.0,657.0 C213.3,658.2 222.5,659.6 230.0,660.0 C237.5,660.4 244.3,659.8 250.0,659.5 C255.7,659.2 261.7,658.2 264.0,658.0"/>
<path class="k" d="M686.0,102.0 C684.2,103.0 677.7,105.4 675.0,108.0 C672.3,110.6 671.5,113.0 670.0,117.5 C668.5,122.0 667.2,129.9 666.0,135.0 C664.8,140.1 664.3,144.0 662.5,148.0 C660.7,152.0 658.8,155.9 655.0,159.0 C651.2,162.1 645.8,164.4 640.0,166.5 C634.2,168.6 626.7,169.6 620.0,171.5 C613.3,173.4 606.2,175.2 600.0,178.0 C593.8,180.8 587.9,184.0 582.5,188.0 C577.1,192.0 572.1,196.7 567.5,202.0 C562.9,207.3 558.8,213.7 555.0,220.0 C551.2,226.3 548.3,232.9 545.0,240.0 C541.7,247.1 538.3,255.4 535.0,262.5 C531.7,269.6 528.8,276.7 525.0,282.5 C521.2,288.3 517.9,292.1 512.5,297.5 C507.1,302.9 498.8,309.2 492.5,315.0 C486.2,320.8 480.0,326.2 475.0,332.5 C470.0,338.8 465.7,345.8 462.5,352.5 C459.3,359.2 457.1,366.2 456.0,372.5 C454.9,378.8 455.5,384.6 456.0,390.0 C456.5,395.4 458.5,400.0 459.0,405.0 C459.5,410.0 460.1,414.2 459.0,420.0 C457.9,425.8 454.8,433.3 452.5,440.0 C450.2,446.7 446.8,453.8 445.5,460.0 C444.2,466.2 444.1,472.1 444.5,477.5 C444.9,482.9 446.1,488.4 448.0,492.5 C449.9,496.6 454.7,500.4 456.0,502.0"/>
<path class="k" d="M767.5,163.0 C765.8,163.2 760.2,163.3 757.5,164.5 C754.8,165.7 752.6,167.4 751.0,170.0 C749.4,172.6 748.6,176.8 747.6,180.0 C746.6,183.2 745.5,186.0 744.9,189.0 C744.3,192.0 744.2,195.0 744.0,198.0 C743.8,201.0 743.8,204.0 743.5,207.0 C743.2,210.0 742.8,213.0 742.2,216.0 C741.6,219.0 741.0,222.0 740.0,225.0 C739.0,228.0 737.6,231.2 735.9,234.0 C734.2,236.8 732.0,239.6 729.6,242.0 C727.2,244.4 724.4,246.7 721.5,248.4 C718.6,250.2 716.5,250.9 712.5,252.5 C708.5,254.1 702.4,256.6 697.5,258.0 C692.6,259.4 687.8,260.3 683.0,261.0 C678.2,261.7 673.8,262.0 668.8,262.3 C663.8,262.6 656.1,261.9 653.0,263.0 C649.9,264.1 651.0,266.1 650.0,269.0 C649.0,271.9 648.4,276.7 647.0,280.5 C645.6,284.3 644.2,287.1 641.4,292.0 C638.6,296.9 634.4,304.5 630.0,310.0 C625.6,315.5 620.4,320.4 615.0,325.0 C609.6,329.6 602.5,333.8 597.5,337.5 C592.5,341.2 587.9,344.4 585.0,347.5 C582.1,350.6 581.7,352.7 580.0,356.0 C578.3,359.3 577.5,364.2 575.0,367.5 C572.5,370.8 569.6,373.8 565.0,376.0 C560.4,378.2 553.5,379.6 547.5,381.0 C541.5,382.4 532.1,383.9 529.0,384.5"/>
<path class="k2" d="M723.0,247.8 C726.0,247.7 735.4,247.1 740.7,247.4 C746.0,247.7 750.2,248.7 755.0,249.7 C759.8,250.7 764.7,251.9 769.5,253.5 C774.3,255.1 779.3,256.9 784.0,259.0 C788.7,261.1 792.9,263.2 797.5,266.0 C802.1,268.8 808.1,272.8 811.5,275.5 C814.9,278.2 816.9,281.3 818.0,282.5"/>
<path class="k2" d="M818.0,282.5 C819.2,282.1 821.9,280.4 825.5,280.0 C829.1,279.6 834.5,279.0 839.5,279.8 C844.5,280.6 850.0,282.4 855.3,285.0 C860.5,287.6 866.0,291.4 871.0,295.5 C876.0,299.6 881.2,305.4 885.0,309.5 C888.8,313.6 890.2,316.7 894.0,320.0 C897.8,323.3 902.8,326.6 908.0,329.5 C913.2,332.4 920.1,334.8 925.0,337.5 C929.9,340.2 934.6,342.2 937.5,346.0 C940.4,349.8 941.2,355.2 942.5,360.0 C943.8,364.8 944.1,370.2 945.0,375.0 C945.9,379.8 947.5,386.7 948.0,389.0"/>
<path class="a" d="M582.3,37.0 L617.5,133.2"/>
<path d="M630.0,167.5 L604.8,135.7 Q615.6,128.1 628.8,126.9 Z" fill="#000"/>
<path class="a" d="M739.8,62.8 L752.5,128.2"/>
<path d="M759.5,164.0 L739.6,128.7 Q751.5,122.8 764.7,123.8 Z" fill="#000"/>
<path class="a" d="M1023.6,252.2 L962.6,319.0"/>
<path d="M938.0,346.0 L954.5,308.9 Q966.3,315.0 973.4,326.2 Z" fill="#000"/>
<path class="a" d="M178.3,724.7 L240.8,664.4"/>
<path d="M267.0,639.0 L248.2,675.0 Q236.8,668.2 230.4,656.5 Z" fill="#000"/>
<text class="t" x="534.1" y="26.5" font-size="31.2">中心溝</text>
<text class="t" x="692.2" y="53.6" font-size="31">中心後溝</text>
<text class="t" x="987.9" y="241.7" font-size="31">頭頂間溝</text>
<text class="t" x="95.1" y="756.9" font-size="30.8">外側溝</text>
<text class="th" x="603.4" y="377.9" font-size="30.8">縁上回</text>
<text class="th" x="799.3" y="357.2" font-size="30.3">角回</text>
<text class="th" transform="translate(570.30,290.40) rotate(-50.30)" x="0" y="11.8" font-size="31.1" text-anchor="middle">中心後回</text>
<text class="th" transform="translate(859.60,251.00) rotate(37.80)" x="0" y="11.9" font-size="31.5" text-anchor="middle">上頭頂小葉</text>
</svg>
</body></html>
